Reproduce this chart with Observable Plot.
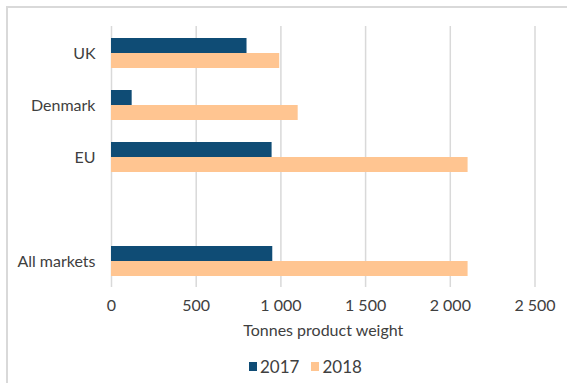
<!DOCTYPE html>
<html>
<head>
<meta charset="utf-8">
<script src="https://cdn.jsdelivr.net/npm/d3@7"></script>
<script src="https://cdn.jsdelivr.net/npm/@observablehq/plot@0.6"></script>
<style>
  html, body { margin: 0; padding: 0; background: #fff; }
  body { width: 567px; height: 383px; position: relative; overflow: hidden; font-family: Lato, "Open Sans", sans-serif; }
  #frame { position: absolute; left: 5.5px; top: 6px; width: 600px; height: 400px; border-left: 2px solid #d9d9d9; border-top: 2px solid #d9d9d9; box-sizing: border-box; }
  #chart { position: absolute; left: 0; top: 0; }
  #legend { position: absolute; left: 0; top: 356px; width: 567px; display: flex; justify-content: flex-start; padding-left: 249px; box-sizing: border-box; font-size: 17px; color: #404040; }
  .item { display: flex; align-items: center; margin-right: 12px; }
  .sw { width: 8px; height: 9px; display: inline-block; margin-right: 3px; }
</style>
</head>
<body>
<div id="frame"></div>
<div id="chart"></div>
<div id="legend"></div>
<script>
const categories = ["UK", "Denmark", "EU", "", "All markets"];
const series = ["2017", "2018"];
const values2017 = [800, 122, 948, null, 952];
const values2018 = [993, 1102, 2105, null, 2105];
const xTicks = [0, 500, 1000, 1500, 2000, 2500];
const colors = ["#0f4c75", "#ffc591"];
const axisTitle = "Tonnes product weight";

const rows2017 = categories.map((c, i) => ({category: c, year: "2017", value: values2017[i]})).filter(d => d.value != null);
const rows2018 = categories.map((c, i) => ({category: c, year: "2018", value: values2018[i]})).filter(d => d.value != null);

const fmt = d => d3.format(",")(d).replace(/,/g, " ");

const chart = Plot.plot({
  width: 567,
  height: 350,
  marginLeft: 111,
  marginRight: 32.5,
  marginTop: 26,
  marginBottom: 63,
  style: {fontFamily: "Lato, sans-serif", color: "#404040", background: "transparent"},
  x: {domain: [0, 2500]},
  y: {domain: categories, paddingInner: 0.425, paddingOuter: 0.2125},
  marks: [
    Plot.gridX(xTicks, {stroke: "#d9d9d9", strokeOpacity: 1, strokeWidth: 1.5}),
    Plot.barX(rows2017, {x: "value", y: "category", fill: colors[0], insetBottom: 15}),
    Plot.barX(rows2018, {x: "value", y: "category", fill: colors[1], insetTop: 15}),
    Plot.axisX({ticks: xTicks, tickSize: 0, tickPadding: 12, tickFormat: fmt, fontSize: 16, label: null, fill: "#404040"}),
    Plot.axisY({tickSize: 0, tickPadding: 16, fontSize: 16, label: null, fill: "#404040", tickFormat: d => d}),
    Plot.text([axisTitle], {frameAnchor: "bottom", dy: 48, fontSize: 16, fill: "#404040", letterSpacing: "-0.2px"})
  ]
});
document.getElementById("chart").appendChild(chart);

const legend = document.getElementById("legend");
series.forEach((s, i) => {
  const item = document.createElement("div");
  item.className = "item";
  const sw = document.createElement("span");
  sw.className = "sw";
  sw.style.background = colors[i];
  item.appendChild(sw);
  const t = document.createElement("span");
  t.textContent = s;
  item.appendChild(t);
  legend.appendChild(item);
});
</script>
</body>
</html>
